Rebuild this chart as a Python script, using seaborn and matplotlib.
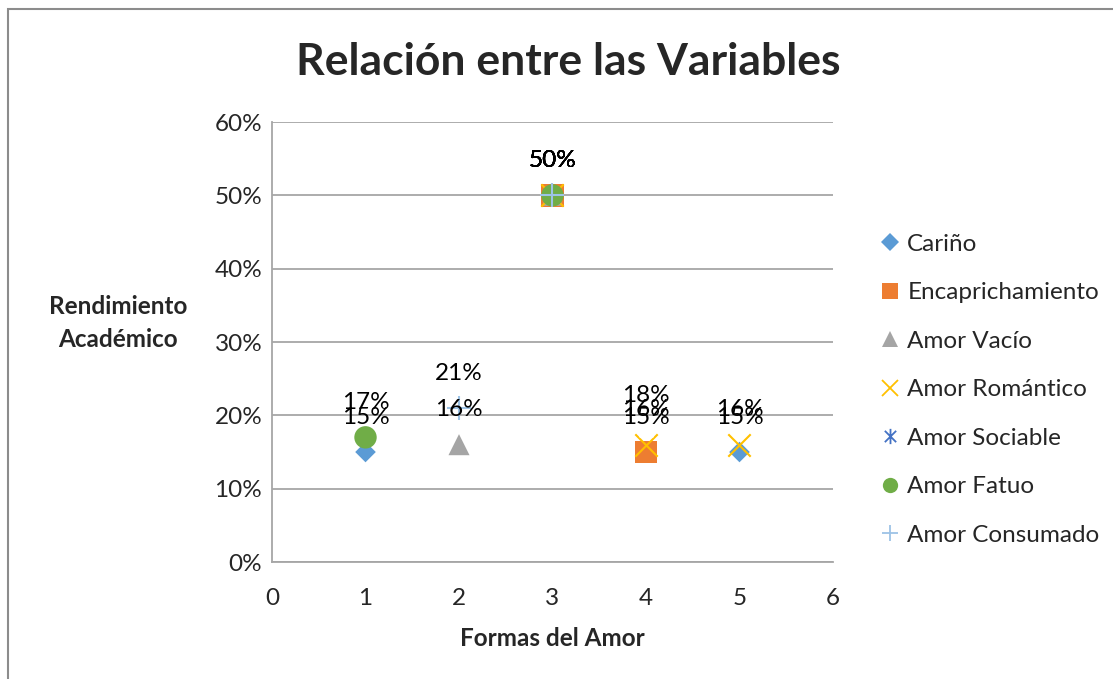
import numpy as np
import pandas as pd
import matplotlib
matplotlib.use("Agg")
import matplotlib.pyplot as plt
from matplotlib.path import Path
from matplotlib.lines import Line2D
from matplotlib.patches import Rectangle
import seaborn as sns

# === Data ===
series_names = ["Cariño", "Encaprichamiento", "Amor Vacío", "Amor Romántico",
                "Amor Sociable", "Amor Fatuo", "Amor Consumado"]
carino_x = [1, 3, 5]
carino_y = [0.15, 0.50, 0.15]
encap_x = [3, 4]
encap_y = [0.50, 0.15]
vacio_x = [2, 3]
vacio_y = [0.16, 0.50]
romantico_x = [3, 4, 5]
romantico_y = [0.50, 0.16, 0.16]
sociable_x = [3, 4]
sociable_y = [0.50, 0.18]
fatuo_x = [1, 3]
fatuo_y = [0.17, 0.50]
consumado_x = [2, 3]
consumado_y = [0.21, 0.50]

xs = [carino_x, encap_x, vacio_x, romantico_x, sociable_x, fatuo_x, consumado_x]
ys = [carino_y, encap_y, vacio_y, romantico_y, sociable_y, fatuo_y, consumado_y]

rows = []
for name, sx, sy in zip(series_names, xs, ys):
    for a, b in zip(sx, sy):
        rows.append({"serie": name, "forma": a, "rendimiento": b})
df = pd.DataFrame(rows)

# asterisk marker like the Excel one (X plus vertical bar)
asterisk = Path([(-1, -1), (1, 1), (-1, 1), (1, -1), (0, -1.35), (0, 1.35)],
                [Path.MOVETO, Path.LINETO, Path.MOVETO, Path.LINETO, Path.MOVETO, Path.LINETO])

styles = {
    "Cariño": dict(marker="D", color="#5B9BD5", s=110, filled=True),
    "Encaprichamiento": dict(marker="s", color="#ED7D31", s=260, filled=True),
    "Amor Vacío": dict(marker="^", color="#A5A5A5", s=230, filled=True),
    "Amor Romántico": dict(marker="x", color="#FFC000", s=260, filled=False),
    "Amor Sociable": dict(marker=asterisk, color="#4472C4", s=180, filled=False),
    "Amor Fatuo": dict(marker="o", color="#70AD47", s=260, filled=True),
    "Amor Consumado": dict(marker="+", color="#9DC3E6", s=300, filled=False),
}

FS = 17.5

sns.set_style("white")
plt.rcParams['font.family'] = ['Lato', 'DejaVu Sans']

fig = plt.figure(figsize=(11.13, 6.79), dpi=100)
ax = fig.add_axes([0.2444, 0.1723, 0.504, 0.648])

# outer chart frame
fig.patches.append(Rectangle((8 / 1113, -0.1), 1.2, 1 - 9 / 679 + 0.1,
                             transform=fig.transFigure, fill=False,
                             edgecolor="#8c8c8c", linewidth=1.5, zorder=0))

handles = []
for z, name in enumerate(series_names):
    st = styles[name]
    sub = df[df["serie"] == name]
    if st["filled"]:
        sns.scatterplot(data=sub, x="forma", y="rendimiento", marker=st["marker"],
                        color=st["color"], s=st["s"], edgecolor="none", ax=ax,
                        zorder=3 + z)
    else:
        sns.scatterplot(data=sub, x="forma", y="rendimiento", marker=st["marker"],
                        color=st["color"], s=st["s"], linewidth=1.5, ax=ax,
                        zorder=3 + z)
    handles.append(Line2D([], [], linestyle="none", marker=st["marker"],
                          color=st["color"], markersize=11 if name != "Cariño" else 9,
                          markeredgewidth=1.3 if not st["filled"] else 0,
                          label=name))
    for a, b in zip(sub["forma"], sub["rendimiento"]):
        ax.annotate(f"{b:.0%}", (a, b), xytext=(0, 25), textcoords="offset points",
                    ha="center", va="center", fontsize=FS, color="black", zorder=20)

ax.set_xlim(0, 6)
ax.set_ylim(0, 0.6)
ax.set_xticks(range(0, 7))
ax.set_yticks(np.arange(0, 0.61, 0.1))
ax.set_yticklabels([f"{v:.0%}" for v in np.arange(0, 0.61, 0.1)])
ax.tick_params(axis="both", labelsize=FS, length=0)
ax.tick_params(axis="y", pad=7)
ax.tick_params(axis="x", pad=19)
ax.yaxis.grid(True, color="#a6a6a6", linewidth=1.3)
ax.xaxis.grid(False)
for side in ["top", "right"]:
    ax.spines[side].set_visible(False)
for side in ["left", "bottom"]:
    ax.spines[side].set_color("#a6a6a6")
    ax.spines[side].set_linewidth(1.3)

ax.set_xlabel("Formas del Amor", fontsize=FS, fontweight="bold", labelpad=13)
ax.set_ylabel("")
fig.text(118 / 1113, 1 - 323 / 679, "Rendimiento\nAcadémico", ha="center", va="center",
         fontsize=FS, fontweight="bold", linespacing=1.5)
fig.text(568 / 1113, 1 - 62 / 679, "Relación entre las Variables", ha="center", va="center",
         fontsize=32, fontweight="bold")

fig.legend(handles=handles, loc="upper left", bbox_to_anchor=(866 / 1113, 1 - 224 / 679),
           frameon=False, fontsize=FS, handletextpad=0.1, labelspacing=1.13,
           handlelength=1.2, borderaxespad=0)

fig.savefig("out.png", dpi=100)
